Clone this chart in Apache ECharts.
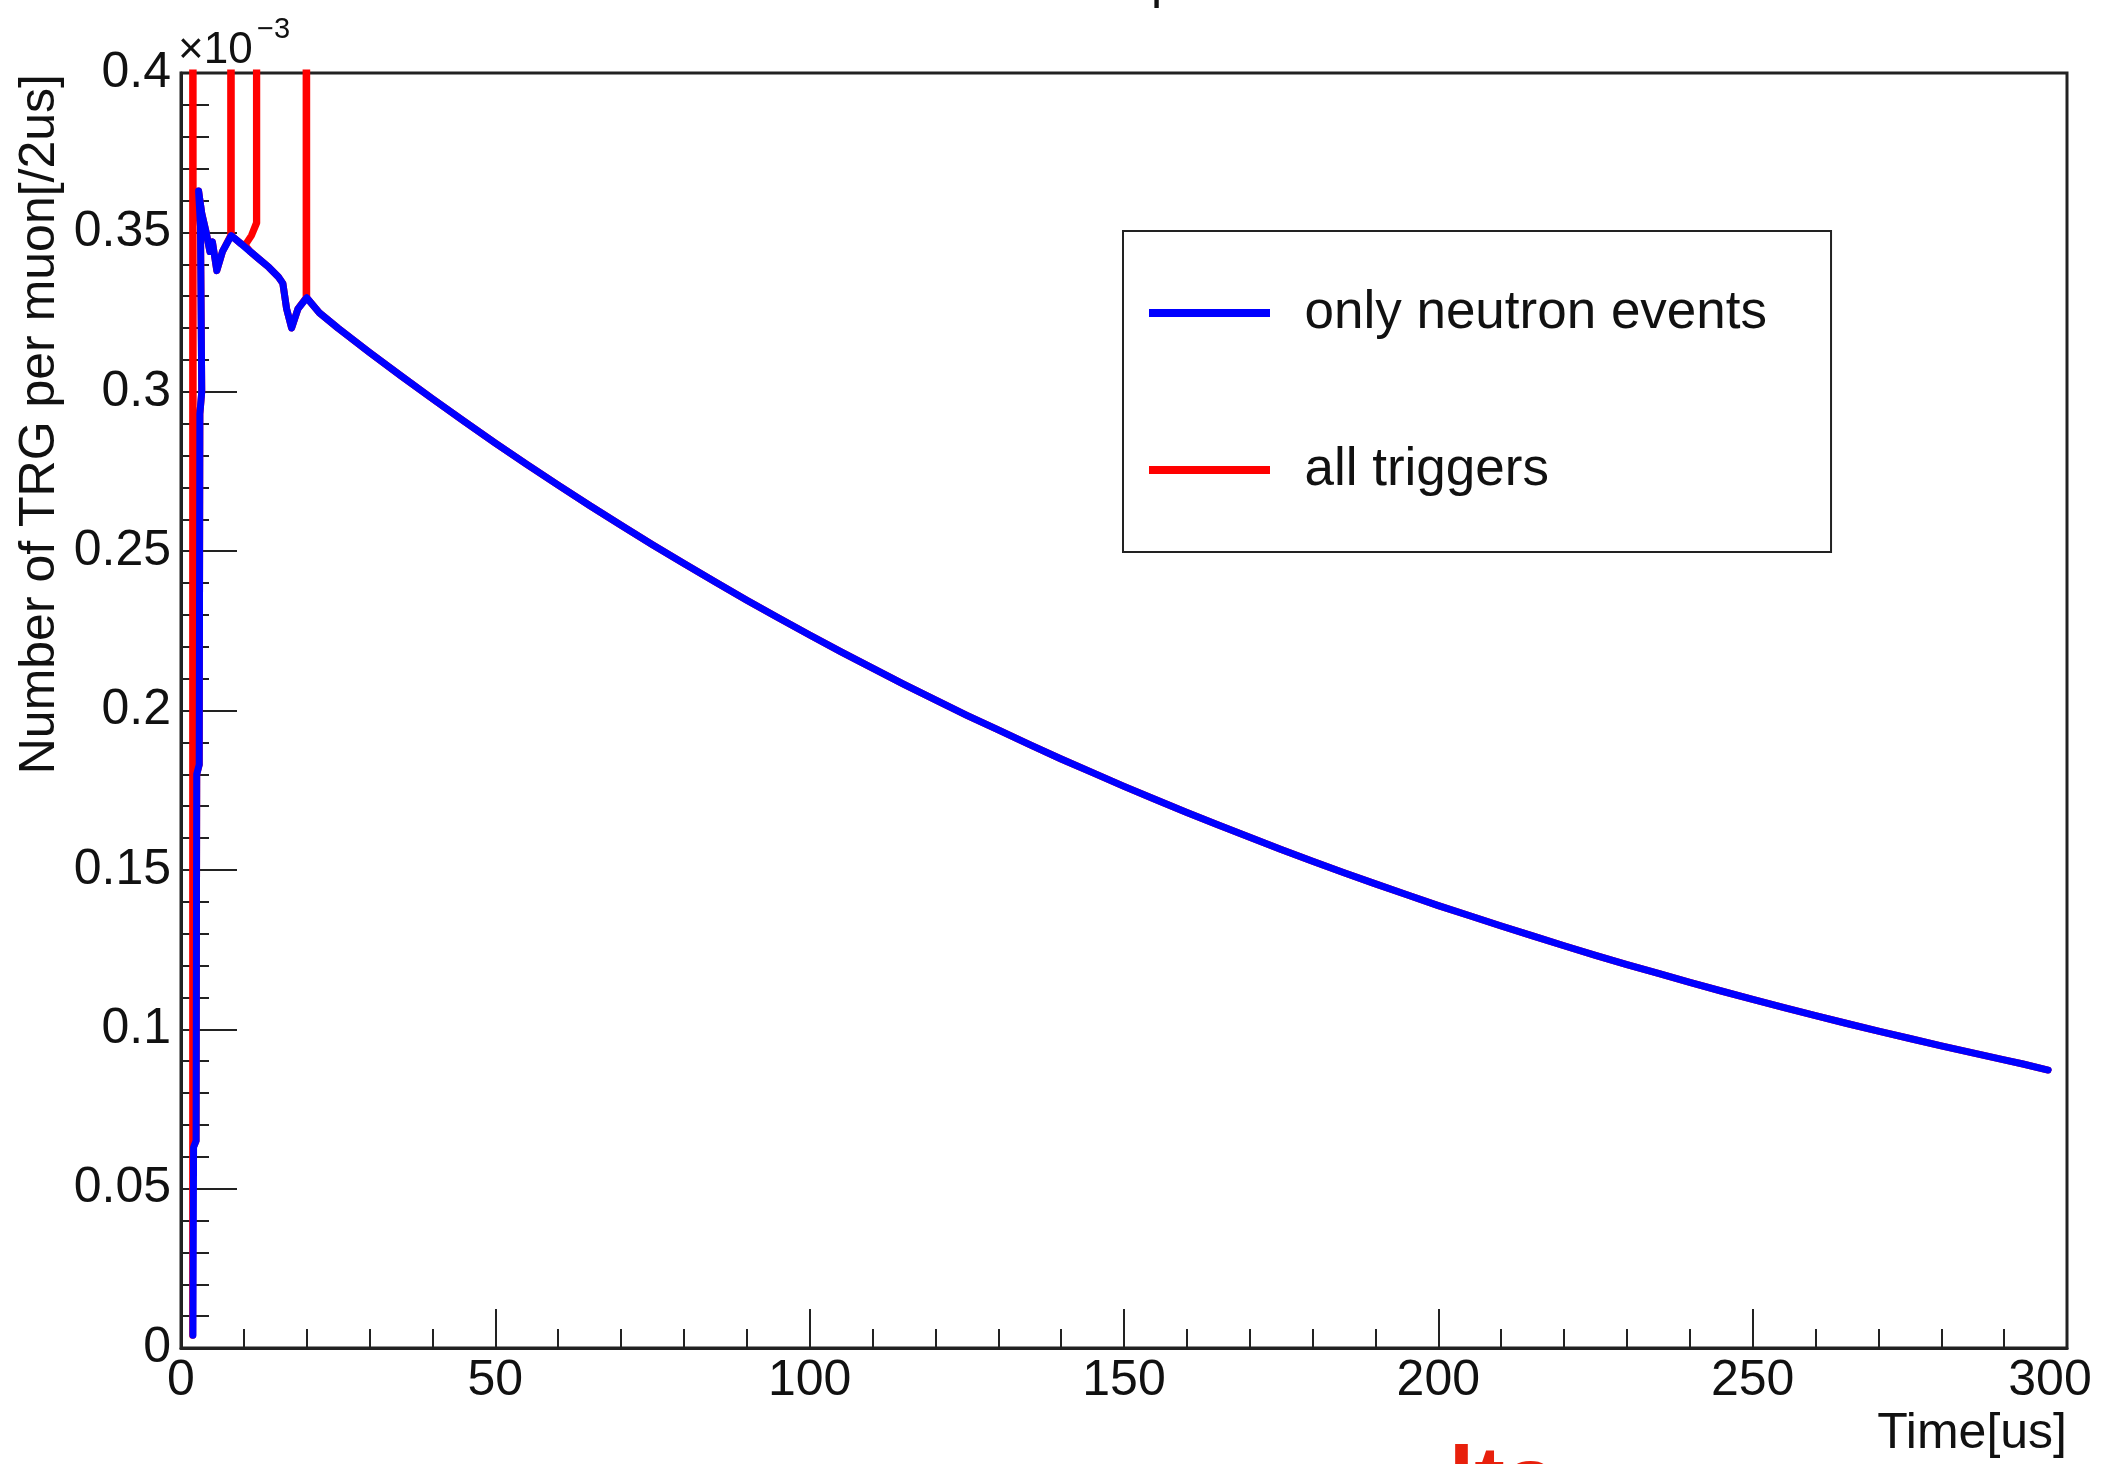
<!DOCTYPE html>
<html>
<head>
<meta charset="utf-8">
<script src="https://cdn.jsdelivr.net/npm/echarts@6/dist/echarts.min.js"></script>
<style>
  html, body { margin: 0; padding: 0; background: #ffffff; }
  #chart { width: 2107px; height: 1464px; }
</style>
</head>
<body>
<div id="chart"></div>
<script>
// ---- data (y values in units of 1e-3) ----
const xTicks = [0, 50, 100, 150, 200, 250, 300];
const yTicks = [0, 0.05, 0.1, 0.15, 0.2, 0.25, 0.3, 0.35, 0.4];

// blue: only neutron events, early part (rise and jagged region)
const neutronEarlyTime  = [1.9, 2.0, 2.4, 2.5, 2.9, 3.0, 3.3, 3.1, 2.8, 3.3, 4.0, 4.6, 5.0, 5.7, 6.6, 8.0, 9.5, 11.0, 12.5, 14.0, 15.5, 16.2, 16.8, 17.6, 18.6, 20.0];
const neutronEarlyValue = [0.004, 0.063, 0.065, 0.180, 0.183, 0.293, 0.300, 0.352, 0.363, 0.356, 0.350, 0.344, 0.347, 0.338, 0.344, 0.349, 0.3465, 0.344, 0.3415, 0.339, 0.336, 0.334, 0.326, 0.320, 0.326, 0.3295];

// red: all triggers, early part (spikes go far above the axis maximum)
const triggerEarlyTime  = [1.85, 1.85, 1.95, 2.4, 2.5, 2.9, 3.0, 3.3, 3.1, 2.8, 3.3, 4.0, 4.6, 5.0, 5.7, 6.6, 7.9, 7.9, 8.0, 9.5, 10.2, 11.2, 12.0, 12.0, 12.05, 11.2, 10.2, 11.0, 12.5, 14.0, 15.5, 16.2, 16.8, 17.6, 18.6, 19.9, 19.9, 20.0];
const triggerEarlyValue = [0.004, 2.0, 0.063, 0.065, 0.180, 0.183, 0.293, 0.300, 0.352, 0.363, 0.356, 0.350, 0.344, 0.347, 0.338, 0.344, 0.349, 2.0, 0.349, 0.3465, 0.346, 0.349, 0.353, 2.0, 0.353, 0.349, 0.346, 0.344, 0.3415, 0.339, 0.336, 0.334, 0.326, 0.320, 0.326, 0.3295, 2.0, 0.3295];

// common decay tail (both histograms coincide here)
const decayTime  = [22, 25, 30, 35, 40, 45, 50, 55, 60, 65, 70, 75, 80, 85, 90, 95, 100, 105, 110, 115, 120, 125, 130, 135, 140, 145, 150, 155, 160, 165, 170, 175, 180, 185, 190, 195, 200, 205, 210, 215, 220, 225, 230, 235, 240, 245, 250, 255, 260, 265, 270, 275, 280, 285, 290, 293, 297];
const decayValue = [0.3248, 0.3199, 0.3123, 0.3050, 0.2978, 0.2908, 0.2839, 0.2772, 0.2707, 0.2643, 0.2581, 0.2520, 0.2461, 0.2403, 0.2346, 0.2291, 0.2237, 0.2184, 0.2133, 0.2082, 0.2033, 0.1985, 0.1939, 0.1893, 0.1848, 0.1805, 0.1762, 0.1721, 0.1680, 0.1641, 0.1602, 0.1564, 0.1527, 0.1491, 0.1456, 0.1422, 0.1388, 0.1356, 0.1324, 0.1293, 0.1262, 0.1232, 0.1203, 0.1175, 0.1147, 0.1120, 0.1094, 0.1068, 0.1043, 0.1018, 0.0994, 0.0971, 0.0948, 0.0926, 0.0904, 0.0891, 0.0872];

const seriesNames = ['only neutron events', 'all triggers'];
const titleY = 'Number of TRG per muon[/2us]';
const titleX = 'Time[us]';

// ---- build ----
const pairs = (ts, vs) => ts.map((t, i) => [t, vs[i]]);
const neutronData = pairs(neutronEarlyTime, neutronEarlyValue).concat(pairs(decayTime, decayValue));
const triggerData = pairs(triggerEarlyTime, triggerEarlyValue).concat(pairs(decayTime, decayValue));

const FONT = "'Liberation Sans', Arial, Helvetica, sans-serif";
const INK = '#111111';

const chart = echarts.init(document.getElementById('chart'), null, { renderer: 'canvas' });
chart.setOption({
  animation: false,
  backgroundColor: '#ffffff',
  grid: { left: 181, right: 40, top: 73, bottom: 116, show: true, borderColor: '#222', borderWidth: 3, backgroundColor: 'transparent' },
  xAxis: {
    type: 'value', min: xTicks[0], max: xTicks[xTicks.length - 1], interval: 50,
    axisLine: { show: true, onZero: false, lineStyle: { color: '#222', width: 3 } },
    axisTick: { show: true, inside: true, length: 39, lineStyle: { color: '#222', width: 2 } },
    minorTick: { show: true, splitNumber: 5, length: 19, lineStyle: { color: '#222', width: 2 } },
    splitLine: { show: false },
    axisLabel: {
      margin: 8, fontSize: 50, fontFamily: FONT, color: INK,
      formatter: v => (v === 300 ? '{r|300}' : String(v)),
      rich: { r: { fontSize: 50, fontFamily: FONT, color: INK, padding: [0, 34, 0, 0] } }
    }
  },
  yAxis: {
    type: 'value', min: yTicks[0], max: yTicks[yTicks.length - 1], interval: 0.05,
    axisLine: { show: true, onZero: false, lineStyle: { color: '#222', width: 3 } },
    axisTick: { show: true, inside: true, length: 56, lineStyle: { color: '#222', width: 2 } },
    minorTick: { show: true, splitNumber: 5, length: 28, lineStyle: { color: '#222', width: 2 } },
    splitLine: { show: false },
    axisLabel: { margin: 10, fontSize: 50, fontFamily: FONT, color: INK }
  },
  legend: {
    left: 1123, top: 231, orient: 'vertical',
    data: seriesNames,
    selectedMode: false,
    icon: 'rect', itemWidth: 121, itemHeight: 8, itemGap: 97,
    padding: [52, 64, 52, 26],
    borderColor: '#222', borderWidth: 2, backgroundColor: '#ffffff',
    textStyle: { fontSize: 53, fontFamily: FONT, color: INK, lineHeight: 60 },
    formatter: n => '  ' + n
  },
  series: [
    {
      name: seriesNames[1], type: 'line', data: triggerData, showSymbol: false, symbol: 'none',
      color: '#ff0000', clip: true, z: 2,
      lineStyle: { color: '#ff0000', width: 7, join: 'round', cap: 'round' }
    },
    {
      name: seriesNames[0], type: 'line', data: neutronData, showSymbol: false, symbol: 'none',
      color: '#0000ff', clip: true, z: 3,
      lineStyle: { color: '#0000ff', width: 7, join: 'round', cap: 'round' }
    }
  ],
  graphic: [
    { type: 'text', x: 40, y: 74, rotation: Math.PI / 2,
      style: { text: titleY, font: '50px ' + FONT, fill: INK, align: 'right', verticalAlign: 'middle' } },
    { type: 'text', x: 2067, y: 1434,
      style: { text: titleX, font: '50px ' + FONT, fill: INK, align: 'right', verticalAlign: 'middle' } },
    { type: 'text', x: 178, y: 51,
      style: { text: '×10', font: '44px ' + FONT, fill: INK, align: 'left', verticalAlign: 'middle' } },
    { type: 'text', x: 257, y: 30,
      style: { text: '−3', font: '29px ' + FONT, fill: INK, align: 'left', verticalAlign: 'middle' } },
    { type: 'text', x: 1151, y: 9,
      style: { text: 'p', font: '50px ' + FONT, fill: INK, align: 'left', verticalAlign: 'bottom' } },
    { type: 'text', x: 1556, y: 1440,
      style: { text: 'lts', font: 'bold 92px ' + FONT, fill: '#e8200c', align: 'right', verticalAlign: 'top' } }
  ]
});
</script>
</body>
</html>
